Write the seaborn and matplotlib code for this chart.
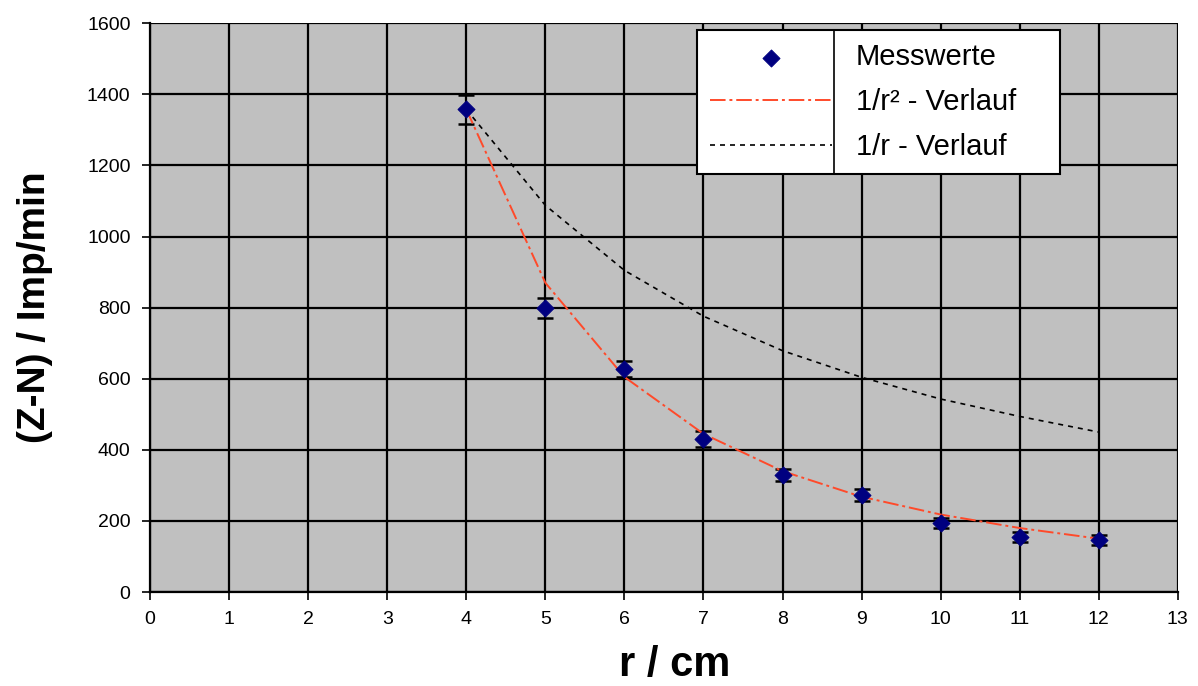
import numpy as np
import pandas as pd
import matplotlib
matplotlib.use('Agg')
import matplotlib.pyplot as plt
from matplotlib.lines import Line2D
import seaborn as sb

# values
r_cm = [4, 5, 6, 7, 8, 9, 10, 11, 12]
messwerte = [1358, 798, 627, 430, 329, 273, 194, 155, 146]
fehler = [40, 28, 22, 23, 17, 17, 14, 13, 15]
verlauf_r2 = [1358, 870, 605, 445, 340, 268, 218, 180, 150]
verlauf_r1 = [1358, 1088, 905, 776, 679, 604, 543, 494, 450]

x_ticks = list(range(0, 14))
y_ticks = list(range(0, 1601, 200))

df = pd.DataFrame({'r': r_cm, 'mess': messwerte, 'err': fehler,
                   'r2': verlauf_r2, 'r1': verlauf_r1})

sb.set_style('whitegrid', {'axes.facecolor': '#C0C0C0', 'grid.color': 'black',
                           'axes.edgecolor': 'black'})
plt.rcParams['font.family'] = ['Liberation Sans', 'DejaVu Sans']
plt.rcParams['text.color'] = 'black'
plt.rcParams['axes.labelcolor'] = 'black'

fig = plt.figure(figsize=(11.98, 6.86), dpi=100)
ax = fig.add_axes([0.1252, 0.137, 0.858, 0.829])

ax.errorbar(df['r'], df['mess'], yerr=df['err'], fmt='none', ecolor='black',
            elinewidth=1.2, capsize=5.5, capthick=1.8, zorder=3)
sb.lineplot(data=df, x='r', y='r2', ax=ax, color='#FF4A2A', linewidth=1.4,
            label='1/r² - Verlauf', zorder=4)
ax.lines[-1].set_dashes([8, 2, 1.5, 2])
sb.lineplot(data=df, x='r', y='r1', ax=ax, color='black', linewidth=1.2,
            label='1/r - Verlauf', zorder=4)
ax.lines[-1].set_dashes([3, 3])
sb.scatterplot(data=df, x='r', y='mess', ax=ax, marker='D', s=75, color='#000080',
               edgecolor='#000080', label='Messwerte', zorder=5)

ax.set_xlim(0, 13)
ax.set_ylim(0, 1600)
ax.set_xticks(x_ticks)
ax.set_yticks(y_ticks)
ax.grid(True, color='black', linewidth=1.6)
ax.tick_params(axis='both', direction='out', length=6, width=1.2, labelsize=14,
               bottom=True, left=True, colors='black')
ax.tick_params(axis='x', pad=8)
ax.tick_params(axis='y', pad=8)
for side in ['top', 'right']:
    ax.spines[side].set_visible(False)
for side in ['left', 'bottom']:
    ax.spines[side].set_linewidth(1.6)

ax.set_xlabel('r / cm', fontsize=30, fontweight='bold')
ax.xaxis.set_label_coords(0.51, -0.094)
ax.set_ylabel('(Z-N) / Imp/min', fontsize=28, fontweight='bold')
ax.yaxis.set_label_coords(-0.094, 0.5)

handles, labels = ax.get_legend_handles_labels()
order = [labels.index('Messwerte'), labels.index('1/r² - Verlauf'), labels.index('1/r - Verlauf')]
leg = ax.legend([handles[i] for i in order], [labels[i] for i in order],
                loc='upper left', bbox_to_anchor=(0.532, 0.988, 0.353, 0.0),
                mode='expand', fontsize=21,
                frameon=True, fancybox=False, framealpha=1, facecolor='white',
                edgecolor='black', handlelength=4.2, handletextpad=0.8,
                labelspacing=0.58, borderpad=0.45, borderaxespad=0)
leg.get_frame().set_linewidth(1.5)

# divider line between symbol and text column, like the original legend
fig.canvas.draw()
bb = leg.get_window_extent()
tx = leg.get_texts()[0].get_window_extent().x0 - 22
inv = fig.transFigure.inverted()
(x0, y0), (x1, y1) = inv.transform([(tx, bb.y0), (tx, bb.y1)])
fig.add_artist(Line2D([x0, x1], [y0, y1], transform=fig.transFigure,
                      color='black', linewidth=1.2, zorder=10))

plt.savefig('out.png', dpi=100)
